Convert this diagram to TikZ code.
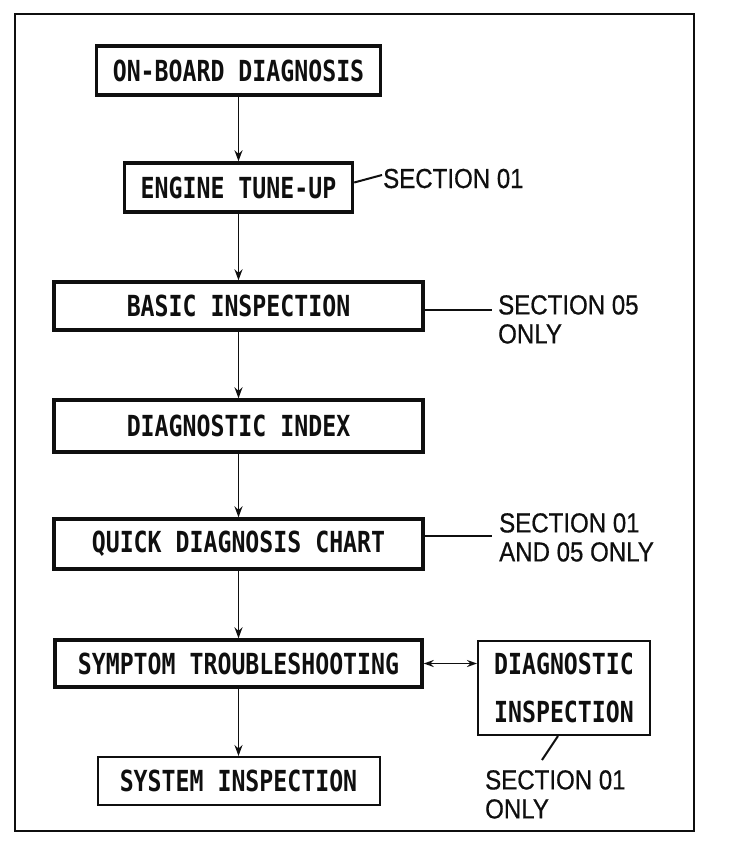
\documentclass[tikz,border=0pt]{standalone}
\usepackage{fontspec}
\usepackage{xcolor}
\usepackage{tikz}
\usetikzlibrary{arrows.meta}
\newfontfamily\boxfont{DejaVu Sans Mono}[FakeStretch=0.8]
\newfontfamily\notefont{Liberation Sans}[FakeStretch=0.875,FakeBold=0.6]
\definecolor{ink}{RGB}{15, 15, 15}

\begin{document}
\begin{tikzpicture}[x=1pt,y=-1pt,
  heavybox/.style={draw=ink,line width=3.4pt,inner sep=0pt,text=ink,
    font=\boxfont\bfseries\fontsize{29}{34}\selectfont},
  lightbox/.style={heavybox,line width=2pt},
  note/.style={inner sep=0pt,align=left,text=ink,
    font=\notefont\fontsize{27.5}{29}\selectfont},
  flow/.style={draw=ink,line width=1.6pt,-{Stealth[length=11pt,width=8pt]}},
  twoway/.style={draw=ink,line width=1.6pt,{Stealth[length=10pt,width=7pt]}-{Stealth[length=10pt,width=7pt]}},
  leader/.style={draw=ink,line width=2pt}]
\useasboundingbox (0,0) rectangle (736,844);
\draw[ink,line width=2.2pt] (15,14) rectangle (694,831);
% main chain
\node[heavybox,minimum width=284pt,minimum height=49pt] (obd) at (238.5,70.5) {ON-BOARD DIAGNOSIS};
\node[heavybox,minimum width=228pt,minimum height=49pt] (tune) at (238.5,187.5) {ENGINE TUNE-UP};
\node[heavybox,minimum width=369pt,minimum height=48pt] (basic) at (238.5,306) {BASIC INSPECTION};
\node[heavybox,minimum width=369pt,minimum height=52pt] (index) at (238.5,426) {DIAGNOSTIC INDEX};
\node[heavybox,minimum width=369pt,minimum height=50pt] (quick) at (238.5,544) {QUICK DIAGNOSIS CHART};
\node[heavybox,minimum width=367pt,minimum height=47pt] (symp) at (238.5,663.5) {SYMPTOM TROUBLESHOOTING};
\node[lightbox,minimum width=282pt,minimum height=48pt] (sys) at (238.5,781) {SYSTEM INSPECTION};
\node[lightbox,align=center,minimum width=172pt,minimum height=94pt] (diag) at (564,688) {DIAGNOSTIC\\[14pt]INSPECTION};
\draw[flow] (obd) -- (tune);
\draw[flow] (tune) -- (basic);
\draw[flow] (basic) -- (index);
\draw[flow] (index) -- (quick);
\draw[flow] (quick) -- (symp);
\draw[flow] (symp) -- (sys);
\draw[twoway] (symp.east) -- (diag.west |- symp.east);
% section notes
\node[note,anchor=base west] (n01) at (383,188) {SECTION 01};
\node[note,anchor=north west] (n05) at (498,295) {SECTION 05\\ONLY};
\node[note,anchor=north west] (n0105) at (499,513) {SECTION 01\\AND 05 ONLY};
\node[note,anchor=north west] (n01b) at (485,770) {SECTION 01\\ONLY};
\coordinate (e01) at (382,175);
\coordinate (e05) at (492,310);
\coordinate (e0105) at (492,536);
\coordinate (e01b) at (542,760);
\draw[leader] ([yshift=5pt]tune.east) -- (e01);
\draw[leader] (basic.east |- e05) -- (e05);
\draw[leader] (quick.east |- e0105) -- (e0105);
\draw[leader] ([xshift=-6pt]diag.south) -- (e01b);
\end{tikzpicture}
\end{document}
